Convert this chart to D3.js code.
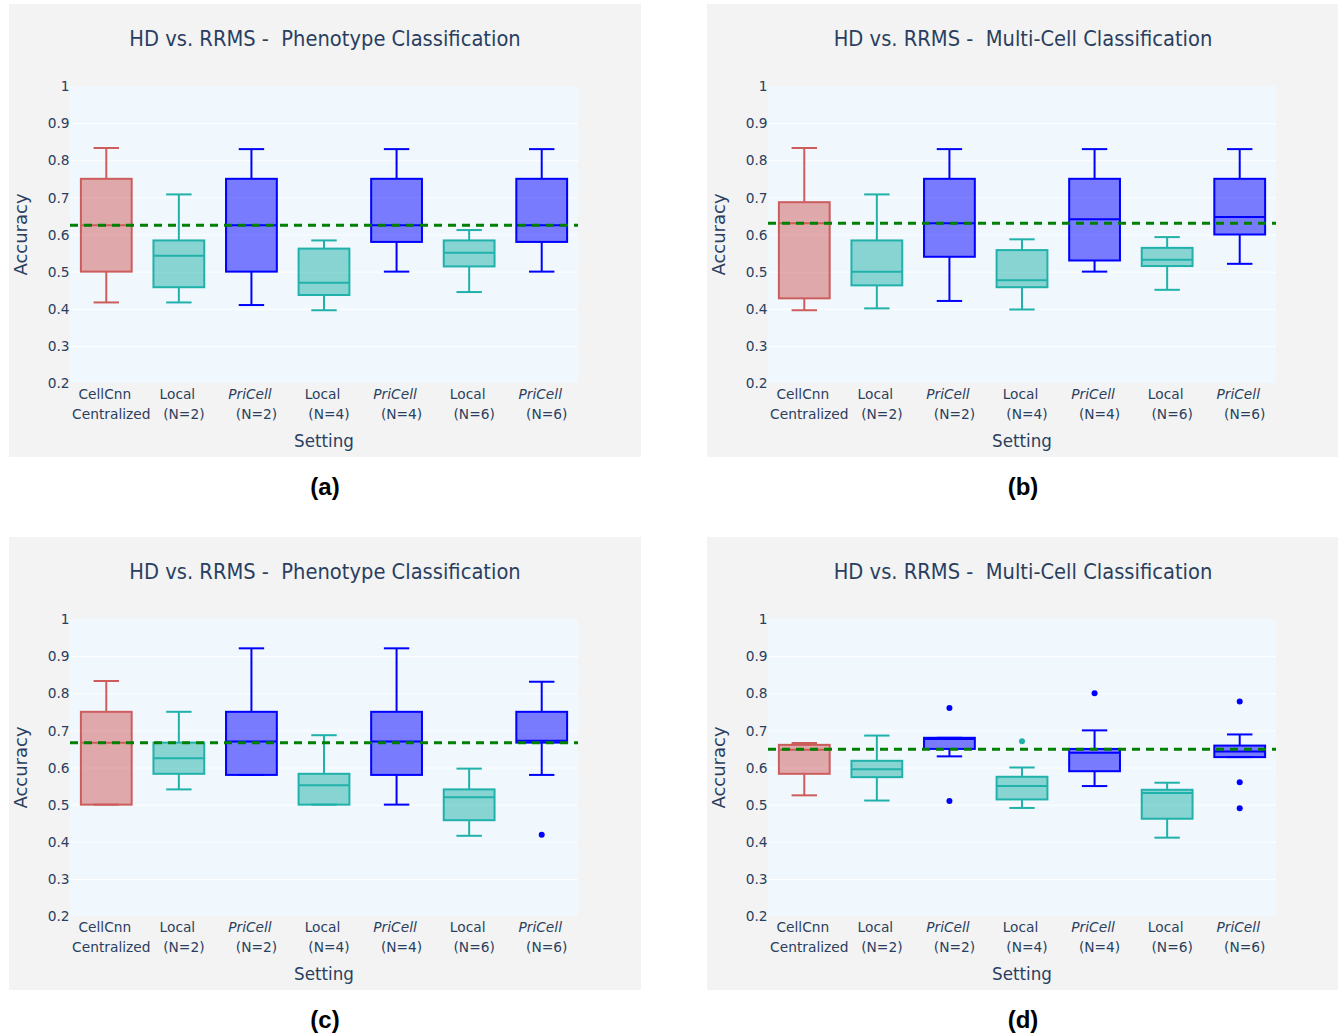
<!DOCTYPE html>
<html><head><meta charset="utf-8">
<script src="https://cdn.jsdelivr.net/npm/d3@7"></script>
<style>
body{margin:0;background:#ffffff;}
text{white-space:pre;}
</style></head>
<body>
<svg id="chart" width="1338" height="1036"></svg>
<script>
// ---------- data ----------
const categories = ["CellCnn Centralized","Local (N=2)","PriCell (N=2)","Local (N=4)","PriCell (N=4)","Local (N=6)","PriCell (N=6)"];
const labelLine1 = ["CellCnn","Local","PriCell","Local","PriCell","Local","PriCell"];
const labelLine2 = ["Centralized","(N=2)","(N=2)","(N=4)","(N=4)","(N=6)","(N=6)"];
const groups = ["CellCnn","Local","PriCell","Local","PriCell","Local","PriCell"];
const yTicks = [0.2,0.3,0.4,0.5,0.6,0.7,0.8,0.9,1];
const titles = ["HD vs. RRMS -  Phenotype Classification","HD vs. RRMS -  Multi-Cell Classification",
                "HD vs. RRMS -  Phenotype Classification","HD vs. RRMS -  Multi-Cell Classification"];
const captions = ["(a)","(b)","(c)","(d)"];

// box stats: [lower whisker, q1, median, q3, upper whisker]
const statsA = [[0.417,0.5,0.625,0.75,0.833],[0.417,0.458,0.543,0.584,0.708],[0.41,0.5,0.625,0.75,0.83],
                [0.396,0.437,0.47,0.562,0.584],[0.5,0.58,0.625,0.75,0.83],[0.445,0.514,0.551,0.584,0.612],
                [0.5,0.58,0.625,0.75,0.83]];
const statsB = [[0.396,0.428,0.63,0.687,0.833],[0.401,0.463,0.5,0.584,0.708],[0.421,0.54,0.63,0.75,0.83],
                [0.398,0.458,0.477,0.558,0.587],[0.5,0.53,0.641,0.75,0.83],[0.451,0.515,0.532,0.564,0.593],
                [0.521,0.6,0.647,0.75,0.83]];
const statsC = [[0.5,0.5,0.667,0.75,0.833],[0.541,0.583,0.625,0.667,0.75],[0.58,0.58,0.67,0.75,0.921],
                [0.5,0.5,0.552,0.583,0.687],[0.5,0.58,0.67,0.75,0.921],[0.416,0.458,0.52,0.541,0.597],
                [0.58,0.667,0.672,0.75,0.831]];
const statsD = [[0.525,0.583,0.648,0.661,0.666],[0.511,0.574,0.595,0.618,0.686],[0.63,0.65,0.677,0.68,0.68],
                [0.491,0.514,0.55,0.575,0.6],[0.55,0.59,0.64,0.65,0.7],[0.411,0.462,0.531,0.54,0.559],
                [0.628,0.628,0.643,0.659,0.689]];
const outliersA = [[],[],[],[],[],[],[]];
const outliersB = [[],[],[],[],[],[],[]];
const outliersC = [[],[],[],[],[],[],[0.419]];
const outliersD = [[],[],[0.76,0.51],[0.671],[0.8],[],[0.778,0.56,0.49]];
const baselines = [0.625,0.63,0.667,0.649];

// ---------- style ----------
const colors = {CellCnn:"rgb(205,92,92)", Local:"rgb(32,178,170)", PriCell:"rgb(0,0,255)"};
const fills  = {CellCnn:"rgba(205,92,92,0.5)", Local:"rgba(32,178,170,0.5)", PriCell:"rgba(0,0,255,0.5)"};
const FONT = "'DejaVu Sans', Verdana, sans-serif";
const TXT = "#2a3f5f";
const SQ = 0.93;
const SQT = 0.95;

const svg = d3.select("#chart");

const panels = [
  {x0:9,   y0:4,   w:632, stats:statsA, out:outliersA},
  {x0:707, y0:4,   w:631, stats:statsB, out:outliersB},
  {x0:9,   y0:537, w:632, stats:statsC, out:outliersC},
  {x0:707, y0:537, w:631, stats:statsD, out:outliersD}
];

function sqText(g, x, y, str, size, opts={}) {
  const s = opts.sq != null ? opts.sq : SQ;
  const t = g.append("text")
    .attr("transform", `translate(${x},${y}) scale(${s},1)`)
    .attr("text-anchor", opts.anchor || "middle")
    .attr("font-family", opts.family || FONT)
    .attr("font-size", size)
    .attr("fill", opts.fill || TXT)
    .text(str);
  if (opts.weight) t.attr("font-weight", opts.weight);
  if (opts.style) t.attr("font-style", opts.style);
  return t;
}

panels.forEach((p, pi) => {
  const g = svg.append("g").attr("transform", `translate(${p.x0},${p.y0})`);
  g.append("rect").attr("width", p.w).attr("height", 453).attr("fill", "#f3f3f3");

  const pl = 61, pt = 82, pw = 508, ph = 297;
  const x = d3.scaleBand().domain(categories).range([pl, pl+pw]).paddingInner(0.3).paddingOuter(0.15);
  const y = d3.scaleLinear().domain([0.2, 1]).range([pt+ph, pt]);

  g.append("rect").attr("x", pl).attr("y", pt).attr("width", pw).attr("height", ph).attr("fill", "#f0f7fd");

  // grid
  const grid = g.append("g").attr("transform", `translate(${pl},0)`)
    .call(d3.axisLeft(y).tickValues(yTicks.slice(1,-1)).tickSize(-pw).tickFormat(""));
  grid.select(".domain").remove();
  grid.selectAll("line").attr("stroke", "#ffffff").attr("stroke-width", 1);

  // y tick labels
  const ya = g.append("g").attr("transform", `translate(${pl},0)`)
    .call(d3.axisLeft(y).tickValues(yTicks).tickSize(0).tickPadding(0.5)
      .tickFormat(d => d === 1 ? "1" : d3.format(".1f")(d)));
  ya.select(".domain").remove();
  ya.selectAll("text").attr("font-family", FONT).attr("font-size", 14.5).attr("fill", TXT)
    .attr("transform", `scale(${SQT},1)`);

  // boxes
  const bw = x.bandwidth();
  categories.forEach((c, i) => {
    const s = p.stats[i];
    const col = colors[groups[i]], fill = fills[groups[i]];
    const cx = x(c) + bw/2;
    const bg = g.append("g");
    bg.append("line").attr("x1", cx).attr("x2", cx).attr("y1", y(s[3])).attr("y2", y(s[4]))
      .attr("stroke", col).attr("stroke-width", 2);
    bg.append("line").attr("x1", cx).attr("x2", cx).attr("y1", y(s[1])).attr("y2", y(s[0]))
      .attr("stroke", col).attr("stroke-width", 2);
    bg.append("line").attr("x1", cx - bw/4).attr("x2", cx + bw/4).attr("y1", y(s[4])).attr("y2", y(s[4]))
      .attr("stroke", col).attr("stroke-width", 2);
    bg.append("line").attr("x1", cx - bw/4).attr("x2", cx + bw/4).attr("y1", y(s[0])).attr("y2", y(s[0]))
      .attr("stroke", col).attr("stroke-width", 2);
    bg.append("rect").attr("x", x(c)).attr("y", y(s[3])).attr("width", bw)
      .attr("height", Math.max(0.5, y(s[1]) - y(s[3])))
      .attr("fill", fill).attr("stroke", col).attr("stroke-width", 2);
    bg.append("line").attr("x1", x(c)).attr("x2", x(c)+bw).attr("y1", y(s[2])).attr("y2", y(s[2]))
      .attr("stroke", col).attr("stroke-width", 2);
    p.out[i].forEach(v => {
      bg.append("circle").attr("cx", cx).attr("cy", y(v)).attr("r", 3).attr("fill", col);
    });
  });

  // baseline dashed
  g.append("line").attr("x1", pl).attr("x2", pl+pw)
    .attr("y1", y(baselines[pi])).attr("y2", y(baselines[pi]))
    .attr("stroke", "green").attr("stroke-width", 3).attr("stroke-dasharray", "8,6");

  // x tick labels
  categories.forEach((c, i) => {
    const cx = x(c) + bw/2;
    sqText(g, cx - 1.5, pt+ph+16, labelLine1[i], 14.5, {sq:SQT, style: groups[i]==="PriCell" ? "italic" : null});
    sqText(g, cx + 5, pt+ph+36, labelLine2[i], 14.5, {sq:SQT});
  });

  // titles
  sqText(g, 316, 41.5, titles[pi], 21);
  sqText(g, pl + pw/2, pt+ph+64, "Setting", 18);
  g.append("text")
    .attr("transform", `translate(18,${pt+ph/2}) rotate(-90) scale(1,${SQ})`)
    .attr("text-anchor", "middle").attr("font-family", FONT).attr("font-size", 18)
    .attr("fill", TXT).text("Accuracy");

  // caption
  sqText(g, 316, 491, captions[pi], 24, {sq:1, family:"'Liberation Sans', Arial, sans-serif", weight:"bold", fill:"#000"});
});
</script>
</body></html>
